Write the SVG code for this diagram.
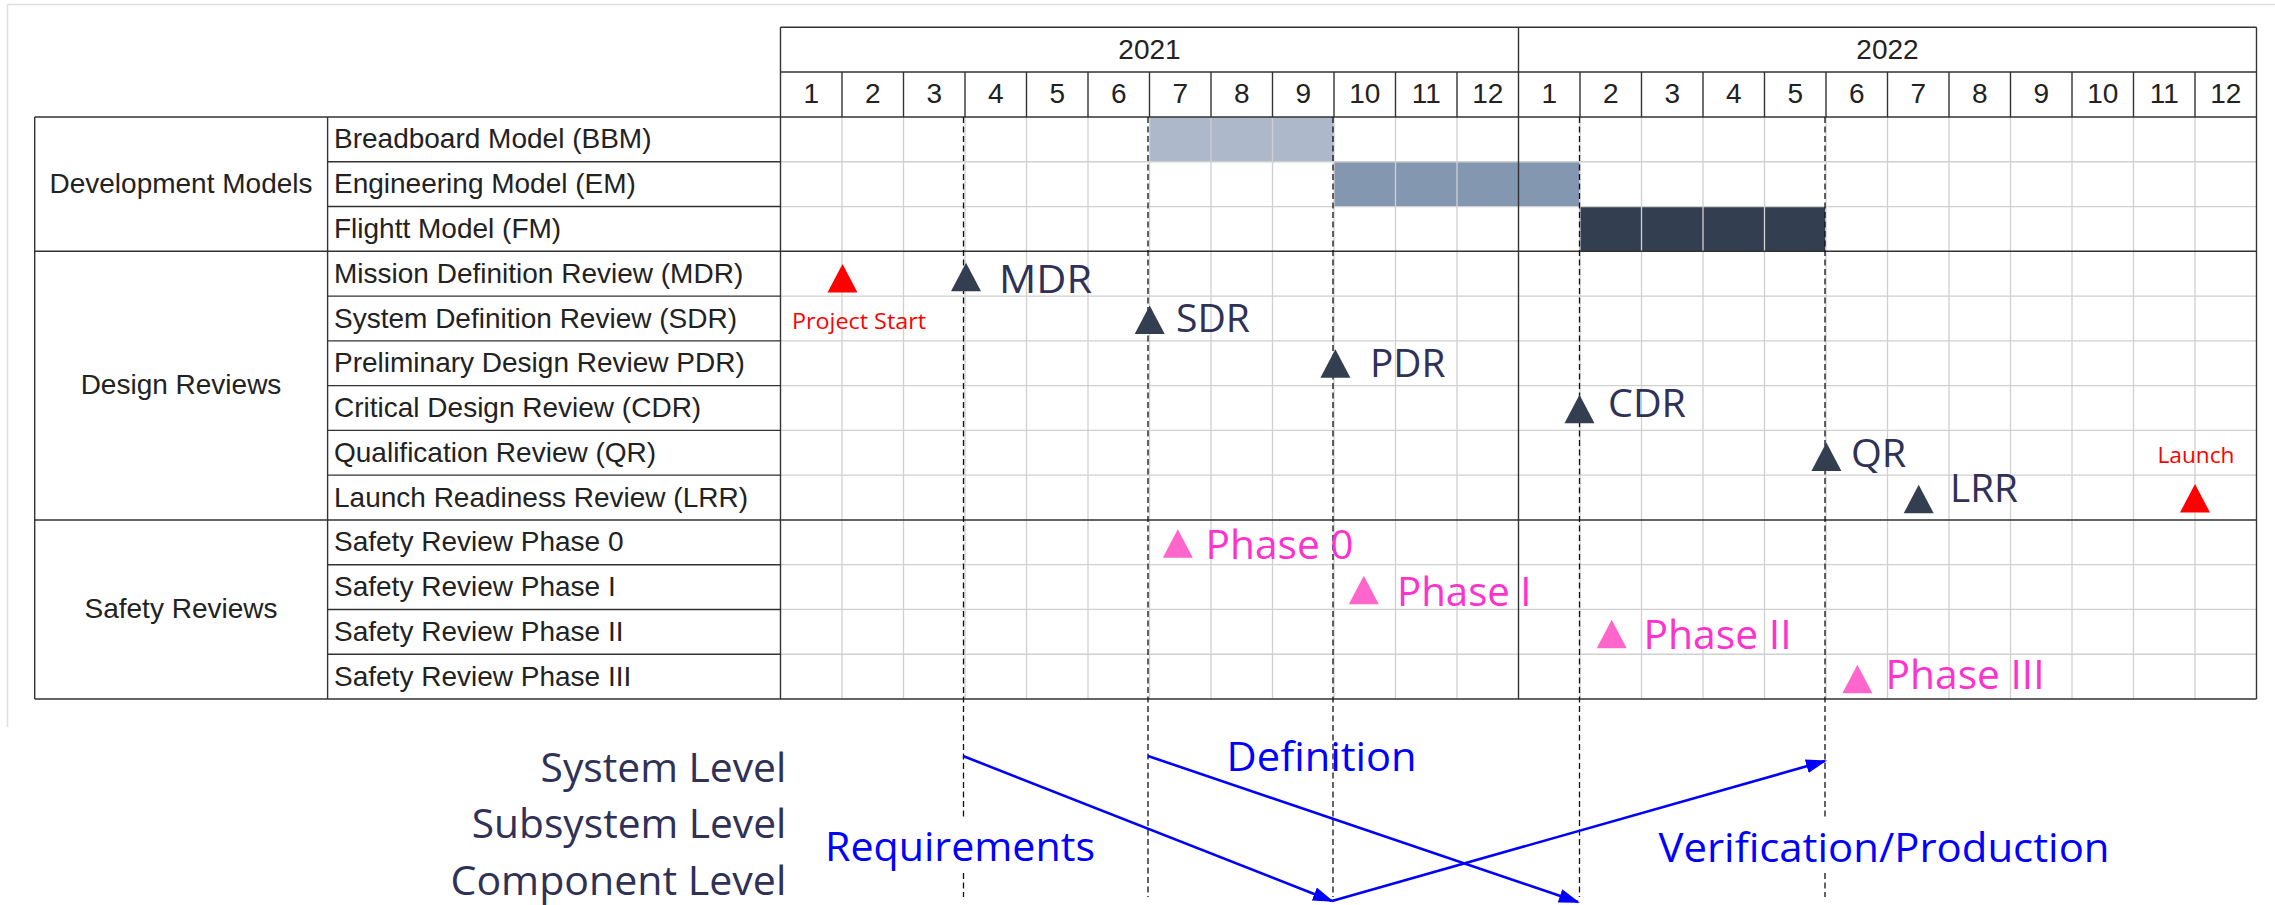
<svg xmlns="http://www.w3.org/2000/svg" xmlns:xlink="http://www.w3.org/1999/xlink" width="2275" height="905" viewBox="0 0 2275 905">
<style>
.lbl{font-family:"Liberation Sans",Arial,sans-serif;font-size:28px;fill:#222}
.mid{text-anchor:middle}
.grid{stroke:#d0d0d0;stroke-width:1.3;fill:none}
.dark{stroke:#333;stroke-width:1.4;fill:none}
.dash{stroke:#111;stroke-width:1.3;stroke-dasharray:6 3.5;fill:none}
.ms{font-family:"Open Sans","Noto Sans",sans-serif;font-size:39px;fill:#2f3157}
.ph{font-family:"Open Sans","Noto Sans",sans-serif;font-size:40px;fill:#ff33cc}
.rd{font-family:"Open Sans","Noto Sans",sans-serif;font-size:22px;fill:#ff0000}
.bl{font-family:"Open Sans","Noto Sans",sans-serif;font-size:40px;fill:#0000ff}
.lv{font-family:"Open Sans","Noto Sans",sans-serif;font-size:40px;fill:#2f3157}
.tr-red{fill:#ff0000}
.tr-dk{fill:#333f50}
.tr-pk{fill:#ff66cc}
.arr{stroke:#0000ff;stroke-width:2.6;fill:none;marker-end:url(#ah)}
</style>
<defs>
<path id="tri" d="M0,-28.5 L15,0 L-15,0 Z"/>
<marker id="ah" markerUnits="userSpaceOnUse" markerWidth="22" markerHeight="16" refX="19" refY="7" orient="auto">
<path d="M0,0 L21,7 L0,14 Z" fill="#0000ff"/>
</marker>
</defs>
<rect x="0" y="0" width="2275" height="905" fill="#ffffff"/>
<g id="page-border">
<path d="M7.5,4.5 H2275 M7.5,4.5 V727" stroke="#e0e0e0" stroke-width="1.5" fill="none"/>
</g>

<g id="bars">
<rect x="1149.5" y="117" width="184.5" height="44.77" fill="#adb9ca"/>
<rect x="1334" y="161.77" width="245.5" height="44.77" fill="#8497b0"/>
<rect x="1579.5" y="206.54" width="246" height="44.77" fill="#333f50"/>
</g>

<g id="grid">
<path class="grid" d="M842,117V699 M903.5,117V699 M965,117V699 M1026.5,117V699 M1088,117V699 M1149.5,117V699 M1211,117V699 M1272.5,117V699 M1334,117V699 M1395.5,117V699 M1457,117V699 M1580,117V699 M1641.5,117V699 M1703,117V699 M1764.5,117V699 M1826,117V699 M1887.5,117V699 M1949,117V699 M2010.5,117V699 M2072,117V699 M2133.5,117V699 M2195,117V699"/>
<path class="grid" d="M780.5,161.77H2256.5 M780.5,206.54H2256.5 M780.5,296.08H2256.5 M780.5,340.85H2256.5 M780.5,385.62H2256.5 M780.5,430.39H2256.5 M780.5,475.16H2256.5 M780.5,564.7H2256.5 M780.5,609.47H2256.5 M780.5,654.24H2256.5"/>
<path class="dark" d="M327.6,161.77H780.5 M327.6,206.54H780.5 M327.6,296.08H780.5 M327.6,340.85H780.5 M327.6,385.62H780.5 M327.6,430.39H780.5 M327.6,475.16H780.5 M327.6,564.7H780.5 M327.6,609.47H780.5 M327.6,654.24H780.5"/>
<path class="dark" d="M780.5,27.3H2256.5 M780.5,72H2256.5 M34.7,117H2256.5 M34.7,251.31H2256.5 M34.7,519.93H2256.5 M34.7,699H2256.5"/>
<path class="dark" d="M34.7,117V699 M327.6,117V699 M780.5,27.3V699 M1518.5,27.3V699 M2256.5,27.3V699"/>
<path class="dark" d="M842,72V117 M903.5,72V117 M965,72V117 M1026.5,72V117 M1088,72V117 M1149.5,72V117 M1211,72V117 M1272.5,72V117 M1334,72V117 M1395.5,72V117 M1457,72V117 M1580,72V117 M1641.5,72V117 M1703,72V117 M1764.5,72V117 M1826,72V117 M1887.5,72V117 M1949,72V117 M2010.5,72V117 M2072,72V117 M2133.5,72V117 M2195,72V117"/>
</g>

<g id="header">
<text class="lbl mid" x="1149.5" y="59.3">2021</text>
<text class="lbl mid" x="1887.5" y="59.3">2022</text>
<text class="lbl mid" x="811.3" y="103.3">1</text>
<text class="lbl mid" x="872.8" y="103.3">2</text>
<text class="lbl mid" x="934.3" y="103.3">3</text>
<text class="lbl mid" x="995.8" y="103.3">4</text>
<text class="lbl mid" x="1057.3" y="103.3">5</text>
<text class="lbl mid" x="1118.8" y="103.3">6</text>
<text class="lbl mid" x="1180.3" y="103.3">7</text>
<text class="lbl mid" x="1241.8" y="103.3">8</text>
<text class="lbl mid" x="1303.3" y="103.3">9</text>
<text class="lbl mid" x="1364.8" y="103.3">10</text>
<text class="lbl mid" x="1426.3" y="103.3">11</text>
<text class="lbl mid" x="1487.8" y="103.3">12</text>
<text class="lbl mid" x="1549.3" y="103.3">1</text>
<text class="lbl mid" x="1610.8" y="103.3">2</text>
<text class="lbl mid" x="1672.3" y="103.3">3</text>
<text class="lbl mid" x="1733.8" y="103.3">4</text>
<text class="lbl mid" x="1795.3" y="103.3">5</text>
<text class="lbl mid" x="1856.8" y="103.3">6</text>
<text class="lbl mid" x="1918.3" y="103.3">7</text>
<text class="lbl mid" x="1979.8" y="103.3">8</text>
<text class="lbl mid" x="2041.3" y="103.3">9</text>
<text class="lbl mid" x="2102.8" y="103.3">10</text>
<text class="lbl mid" x="2164.3" y="103.3">11</text>
<text class="lbl mid" x="2225.8" y="103.3">12</text>
</g>

<g id="group-development-models"><text class="lbl mid" x="181" y="192.5">Development Models</text></g>
<g id="group-design-reviews"><text class="lbl mid" x="181" y="394">Design Reviews</text></g>
<g id="group-safety-reviews"><text class="lbl mid" x="181" y="617.7">Safety Reviews</text></g>

<g id="row-labels">
<text class="lbl" x="334" y="148.4">Breadboard Model (BBM)</text>
<text class="lbl" x="334" y="193.2">Engineering Model (EM)</text>
<text class="lbl" x="334" y="238">Flightt Model (FM)</text>
<text class="lbl" x="334" y="282.7">Mission Definition Review (MDR)</text>
<text class="lbl" x="334" y="327.5">System Definition Review (SDR)</text>
<text class="lbl" x="334" y="372.3">Preliminary Design Review PDR)</text>
<text class="lbl" x="334" y="417">Critical Design Review (CDR)</text>
<text class="lbl" x="334" y="461.8">Qualification Review (QR)</text>
<text class="lbl" x="334" y="506.6">Launch Readiness Review (LRR)</text>
<text class="lbl" x="334" y="551.3">Safety Review Phase 0</text>
<text class="lbl" x="334" y="596.1">Safety Review Phase I</text>
<text class="lbl" x="334" y="640.9">Safety Review Phase II</text>
<text class="lbl" x="334" y="685.6">Safety Review Phase III</text>
</g>

<g id="phase-dividers">
<path class="dash" d="M963.5,117V817 M963.5,873V897"/>
<path class="dash" d="M1148,117V897"/>
<path class="dash" d="M1333,117V897"/>
<path class="dash" d="M1579.5,117V897"/>
<path class="dash" d="M1825,117V817 M1825,873V897"/>
</g>

<g id="milestone-project-start">
<use xlink:href="#tri" x="842.5" y="292.5" class="tr-red"/>
<text class="rd" x="792" y="328.5" textLength="134" lengthAdjust="spacingAndGlyphs">Project Start</text>
</g>
<g id="milestone-mdr">
<use xlink:href="#tri" x="966" y="291.3" class="tr-dk"/>
<text class="ms" x="999" y="293.3" textLength="93" lengthAdjust="spacingAndGlyphs">MDR</text>
</g>
<g id="milestone-sdr">
<use xlink:href="#tri" x="1149.7" y="334" class="tr-dk"/>
<text class="ms" x="1176" y="331.7" textLength="74" lengthAdjust="spacingAndGlyphs">SDR</text>
</g>
<g id="milestone-pdr">
<use xlink:href="#tri" x="1335.4" y="377.7" class="tr-dk"/>
<text class="ms" x="1370" y="377.3" textLength="75.5" lengthAdjust="spacingAndGlyphs">PDR</text>
</g>
<g id="milestone-cdr">
<use xlink:href="#tri" x="1579.5" y="423.3" class="tr-dk"/>
<text class="ms" x="1608" y="416.7" textLength="78" lengthAdjust="spacingAndGlyphs">CDR</text>
</g>
<g id="milestone-qr">
<use xlink:href="#tri" x="1826.4" y="471" class="tr-dk"/>
<text class="ms" x="1851" y="467.3" textLength="55.3" lengthAdjust="spacingAndGlyphs">QR</text>
</g>
<g id="milestone-lrr">
<use xlink:href="#tri" x="1918.7" y="513.3" class="tr-dk"/>
<text class="ms" x="1950" y="501.7" textLength="68" lengthAdjust="spacingAndGlyphs">LRR</text>
</g>
<g id="milestone-launch">
<use xlink:href="#tri" x="2195" y="512.5" class="tr-red"/>
<text class="rd" x="2157.5" y="462.7" textLength="77" lengthAdjust="spacingAndGlyphs">Launch</text>
</g>
<g id="milestone-phase-0">
<use xlink:href="#tri" x="1177.8" y="557.7" class="tr-pk"/>
<text class="ph" x="1205.6" y="559.3" textLength="148" lengthAdjust="spacingAndGlyphs">Phase 0</text>
</g>
<g id="milestone-phase-1">
<use xlink:href="#tri" x="1363.8" y="604.3" class="tr-pk"/>
<text class="ph" x="1397" y="606" textLength="134.6" lengthAdjust="spacingAndGlyphs">Phase I</text>
</g>
<g id="milestone-phase-2">
<use xlink:href="#tri" x="1611.7" y="648.3" class="tr-pk"/>
<text class="ph" x="1643.4" y="649" textLength="148.2" lengthAdjust="spacingAndGlyphs">Phase II</text>
</g>
<g id="milestone-phase-3">
<use xlink:href="#tri" x="1857.4" y="693.3" class="tr-pk"/>
<text class="ph" x="1885.6" y="689.3" textLength="159" lengthAdjust="spacingAndGlyphs">Phase III</text>
</g>

<g id="levels">
<text class="lv" x="540.6" y="781.7" textLength="245.7" lengthAdjust="spacingAndGlyphs">System Level</text>
<text class="lv" x="471.8" y="837.7" textLength="314.5" lengthAdjust="spacingAndGlyphs">Subsystem Level</text>
<text class="lv" x="450.5" y="895" textLength="335.8" lengthAdjust="spacingAndGlyphs">Component Level</text>
</g>

<g id="phase-labels">
<text class="bl" x="825" y="861" textLength="270" lengthAdjust="spacingAndGlyphs">Requirements</text>
<text class="bl" x="1226.6" y="770.7" textLength="190" lengthAdjust="spacingAndGlyphs">Definition</text>
<text class="bl" x="1658.5" y="861.7" textLength="451" lengthAdjust="spacingAndGlyphs">Verification/Production</text>
</g>

<g id="connectors">
<path class="arr" d="M963,756 L1332,901"/>
<path class="arr" d="M1148,756 L1578,902"/>
<path class="arr" d="M1332,901 L1825,761"/>
</g>
</svg>
